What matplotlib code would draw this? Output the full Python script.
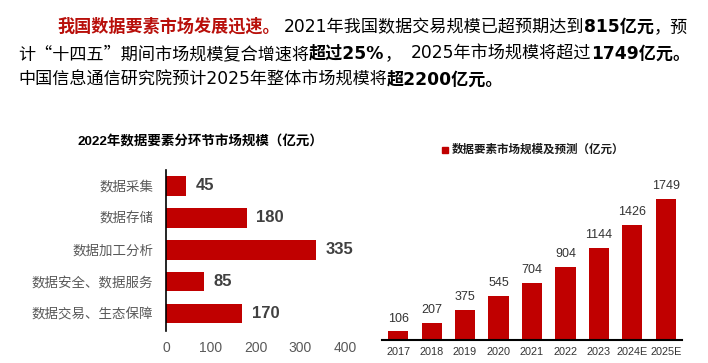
import matplotlib
matplotlib.use("Agg")
import matplotlib.pyplot as plt
from matplotlib.patches import Rectangle

plt.rcParams['font.family'] = ['Liberation Sans', 'Noto Sans CJK SC', 'DejaVu Sans']

W, H = 708, 363
RED = '#C00000'
MIX = ['DejaVu Sans', 'Noto Sans CJK SC']
CJK = ['Noto Sans CJK SC', 'DejaVu Sans']

# headline text runs: (text, bold, color, family)
line1 = [("我国数据要素市场发展迅速。", True, '#B80F0A', CJK),
         ("2021年我国数据交易规模已超预期达到", False, 'black', MIX),
         ("815亿元", True, 'black', MIX),
         ("，预", False, 'black', CJK)]
line2 = [("计“十四五”期间市场规模复合增速将", False, 'black', CJK),
         ("超过25%", True, 'black', MIX),
         ("，", False, 'black', CJK),
         ("2025年市场规模将超过", False, 'black', MIX),
         ("1749亿元。", True, 'black', MIX)]
line3 = [("中国信息通信研究院预计2025年整体市场规模将", False, 'black', MIX),
         ("超2200亿元。", True, 'black', MIX)]

# left chart: 2022 segment sizes
seg_names = ["数据采集", "数据存储", "数据加工分析", "数据安全、数据服务", "数据交易、生态保障"]
seg_vals = [45, 180, 335, 85, 170]
seg_ticks = [0, 100, 200, 300, 400]

# right chart: market size by year
years = ["2017", "2018", "2019", "2020", "2021", "2022", "2023", "2024E", "2025E"]
market = [106, 207, 375, 545, 704, 904, 1144, 1426, 1749]

fig = plt.figure(figsize=(W / 100, H / 100), dpi=100)
renderer = fig.canvas.get_renderer()


def px(x, y):
    return x / W, 1 - y / H


def draw_runs(x0, y, runs, size=12.3):
    x = x0
    for s, bold, color, fam in runs:
        t = fig.text(*px(x, y), s, fontsize=size, color=color, family=fam,
                     fontweight='bold' if bold else 'normal', va='baseline')
        bb = t.get_window_extent(renderer)
        x += bb.width
        if s.endswith("。"):
            x += 4
        elif s == "，":
            x += 9


draw_runs(57, 32, line1)
draw_runs(18, 59, line2)
draw_runs(18, 85, line3)

# ---- left chart ----
ax1 = fig.add_axes([166 / W, (H - 331) / H, 179 / W, (331 - 170) / H])
ax1.barh(range(len(seg_vals)), seg_vals, height=0.62, color=RED)
ax1.set_xlim(0, 400)
ax1.set_ylim(4.55, -0.5)
for sp in ['top', 'right', 'bottom']:
    ax1.spines[sp].set_visible(False)
ax1.spines['left'].set_color('black')
ax1.spines['left'].set_linewidth(1.2)
ax1.set_xticks(seg_ticks)
ax1.set_yticks(range(len(seg_names)))
ax1.set_yticklabels(seg_names)
ax1.tick_params(axis='x', length=0, pad=7, labelsize=10, labelcolor='#595959')
ax1.tick_params(axis='y', length=0, pad=9, labelsize=9.7, labelcolor='#595959')
for i, v in enumerate(seg_vals):
    ax1.annotate(str(v), (v, i), xytext=(7, 0), textcoords='offset points',
                 va='center', ha='left', fontsize=12, fontweight='bold',
                 color='#404040', annotation_clip=False)
fig.text(*px(78, 142), "2022年数据要素分环节市场规模（亿元）", fontsize=9.7,
         fontweight='bold', va='center', color='black')

# ---- right chart ----
ax2 = fig.add_axes([382 / W, (H - 340) / H, 300 / W, (340 - 175) / H])
ax2.bar(range(len(market)), market, width=0.6, color=RED)
ax2.set_xlim(-0.48, len(market) - 0.52)
ax2.set_ylim(0, 2047)
for sp in ['top', 'right', 'left']:
    ax2.spines[sp].set_visible(False)
ax2.spines['bottom'].set_color('black')
ax2.spines['bottom'].set_linewidth(1.5)
ax2.set_yticks([])
ax2.set_xticks(range(len(years)))
ax2.set_xticklabels(years)
ax2.tick_params(axis='x', length=0, pad=5, labelsize=7.8, labelcolor='#333333')
for i, v in enumerate(market):
    ax2.annotate(str(v), (i, v), xytext=(0, 5), textcoords='offset points',
                 va='bottom', ha='center', fontsize=9, color='#333333')

fig.patches.append(Rectangle(px(442, 153), 6 / W, 6 / H, transform=fig.transFigure,
                             color=RED))
fig.text(*px(452, 150), "数据要素市场规模及预测（亿元）", fontsize=8.3,
         fontweight='bold', va='center', color='#1a1a1a')

fig.savefig("out.png", dpi=100)
